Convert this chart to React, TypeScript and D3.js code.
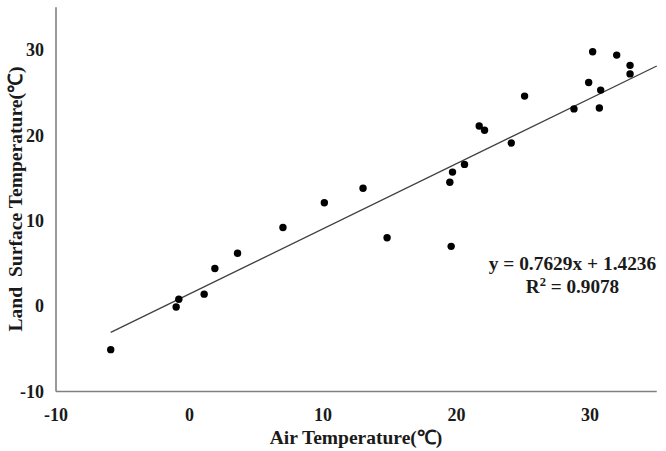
import React from "react";
import * as d3 from "d3";

const airTemp = [-5.9, -1.0, -0.8, 1.1, 1.9, 3.6, 7.0, 10.1, 13.0, 14.8, 19.6, 19.5, 19.7, 20.6, 21.7, 22.1, 24.1, 25.1, 28.8, 29.9, 30.2, 30.7, 30.8, 32.0, 33.0, 33.0];
const landTemp = [-5.1, -0.1, 0.8, 1.4, 4.4, 6.2, 9.2, 12.1, 13.8, 8.0, 7.0, 14.5, 15.7, 16.6, 21.1, 20.6, 19.1, 24.6, 23.1, 26.2, 29.8, 23.2, 25.3, 29.4, 28.2, 27.2];
const xTicks = [-10, 0, 10, 20, 30];
const yTicks = [-10, 0, 10, 20, 30];
const slope = 0.7629;
const intercept = 1.4236;
const r2 = "0.9078";

const W = 666;
const H = 451;
const font = "'Liberation Serif', 'Times New Roman', serif";

export default function App() {
  const x = d3.scaleLinear().domain([-10, 35]).range([56, 656.75]);
  const y = d3.scaleLinear().domain([-10, 35]).range([391.5, 7.3]);
  const xMin = d3.min(airTemp) as number;
  const line = d3.line<number>().x((d) => x(d)).y((d) => y(slope * d + intercept));
  return (
    <svg width={W} height={H} style={{ position: "absolute", left: 0, top: 0, background: "#fff" }}>
      <rect x={0} y={0} width={W} height={H} fill="#fff" />
      <path d={line([xMin, 35]) || ""} stroke="#404040" strokeWidth={1.3} fill="none" />
      <line x1={x(-10)} x2={x(-10)} y1={y(35)} y2={y(-10)} stroke="#808080" strokeWidth={1.6} />
      <line x1={x(-10)} x2={x(35)} y1={y(-10)} y2={y(-10)} stroke="#808080" strokeWidth={1.6} />
      {airTemp.map((a, i) => (
        <circle key={i} cx={x(a)} cy={y(landTemp[i])} r={3.7} fill="#000" />
      ))}
      {yTicks.map((t) => (
        <text key={"y" + t} x={44} y={y(t)} dy="0.35em" textAnchor="end" fontFamily={font} fontWeight="bold" fontSize={18} fill="#1a1a1a">
          {t}
        </text>
      ))}
      {xTicks.map((t) => (
        <text key={"x" + t} x={x(t)} y={421} textAnchor="middle" fontFamily={font} fontWeight="bold" fontSize={18} fill="#1a1a1a">
          {t}
        </text>
      ))}
      <text x={356} y={444} textAnchor="middle" fontFamily={font} fontWeight="bold" fontSize={19.5} fill="#1a1a1a">
        Air Temperature(℃)
      </text>
      <text
        transform={`translate(22,199) rotate(-90)`}
        textAnchor="middle"
        fontFamily={font}
        fontWeight="bold"
        fontSize={19.6}
        fill="#1a1a1a"
        style={{ whiteSpace: "pre" }}
      >
        {"Land  Surface Temperature(℃)"}
      </text>
      <text x={572.5} y={270} textAnchor="middle" fontFamily={font} fontWeight="bold" fontSize={19.4} fill="#1a1a1a">
        {`y = ${slope}x + ${intercept}`}
      </text>
      <text x={572.5} y={293} textAnchor="middle" fontFamily={font} fontWeight="bold" fontSize={19.2} fill="#1a1a1a">
        R<tspan fontSize={12.5} dy={-7}>2</tspan>
        <tspan dy={7}>{` = ${r2}`}</tspan>
      </text>
    </svg>
  );
}
